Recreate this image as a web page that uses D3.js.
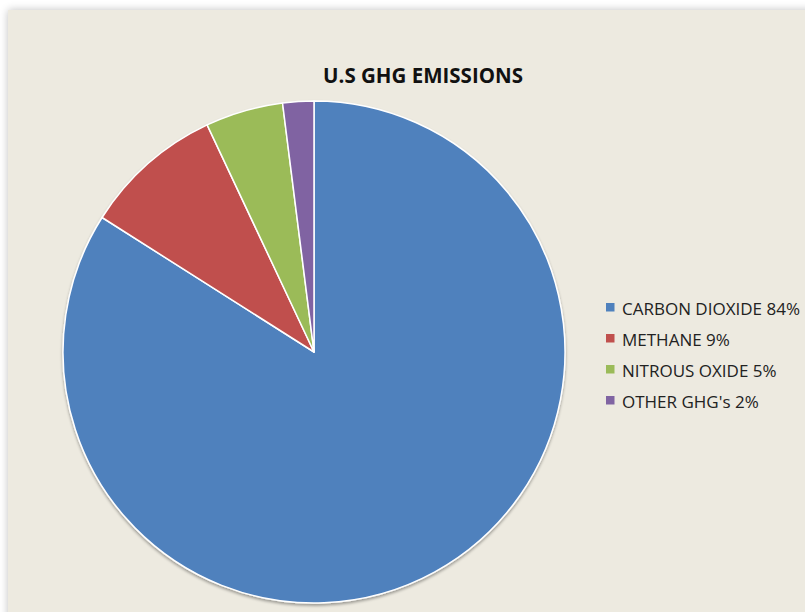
<!DOCTYPE html>
<html>
<head>
<meta charset="utf-8">
<script src="https://cdn.jsdelivr.net/npm/d3@7"></script>
<style>
  html, body { margin: 0; padding: 0; background: #fff; overflow: hidden; }
  svg { display: block; }
</style>
</head>
<body>
<div id="chart"></div>
<script>
// chart data
const gases = ["CARBON DIOXIDE", "METHANE", "NITROUS OXIDE", "OTHER GHG's"];
const shares = [84, 9, 5, 2];
const colors = ["#4F81BD", "#C0504D", "#9BBB59", "#8064A2"];

var w = 805,
  h = 612,
  cx = 314,
  cy = 352,
  r = 251;

var svg = d3.select("#chart")
  .append("svg")
  .attr("width", w)
  .attr("height", h);

var defs = svg.append("defs");

var panelShadow = defs.append("filter")
  .attr("id", "panelShadow")
  .attr("x", "-5%").attr("y", "-5%")
  .attr("width", "110%").attr("height", "110%");
panelShadow.append("feGaussianBlur")
  .attr("in", "SourceAlpha")
  .attr("stdDeviation", 4);
panelShadow.append("feComponentTransfer")
  .append("feFuncA").attr("type", "linear").attr("slope", 0.25);
var pm = panelShadow.append("feMerge");
pm.append("feMergeNode");
pm.append("feMergeNode").attr("in", "SourceGraphic");

var pieShadow = defs.append("filter")
  .attr("id", "pieShadow")
  .attr("x", "-10%").attr("y", "-10%")
  .attr("width", "120%").attr("height", "120%");
pieShadow.append("feGaussianBlur")
  .attr("in", "SourceAlpha")
  .attr("stdDeviation", 1.5);
pieShadow.append("feOffset").attr("dx", 0).attr("dy", 1.5);
pieShadow.append("feComponentTransfer")
  .append("feFuncA").attr("type", "linear").attr("slope", 0.35);
var qm = pieShadow.append("feMerge");
qm.append("feMergeNode");
qm.append("feMergeNode").attr("in", "SourceGraphic");

// background panel
svg.append("rect")
  .attr("x", 8)
  .attr("y", 10)
  .attr("width", w + 20)
  .attr("height", h + 20)
  .attr("fill", "#EDEAE0")
  .attr("filter", "url(#panelShadow)");

// title
svg.append("text")
  .attr("x", 423)
  .attr("y", 83)
  .attr("text-anchor", "middle")
  .attr("font-family", "'Open Sans', sans-serif")
  .attr("font-weight", "bold")
  .attr("font-size", 20.5)
  .attr("fill", "#111")
  .text("U.S GHG EMISSIONS");

// pie
var color = d3.scaleOrdinal().domain(gases).range(colors);

var pie = d3.pie()
  .sort(null)
  .value(function(d, i) { return shares[i]; });

var arc = d3.arc()
  .innerRadius(0)
  .outerRadius(r);

var slices = svg.append("g")
  .attr("transform", "translate(" + cx + "," + cy + ")")
  .attr("filter", "url(#pieShadow)");

slices.selectAll("path")
  .data(pie(gases))
  .enter()
  .append("path")
  .attr("d", arc)
  .attr("fill", function(d) { return color(d.data); })
  .attr("stroke", "#fff")
  .attr("stroke-width", 1.5)
  .attr("stroke-linejoin", "round");

// legend
var legendY = d3.scalePoint()
  .domain(gases)
  .range([307, 400]);

var legend = svg.append("g")
  .selectAll("g")
  .data(gases)
  .enter()
  .append("g")
  .attr("transform", function(d) { return "translate(606," + legendY(d) + ")"; });

legend.append("rect")
  .attr("x", 0)
  .attr("y", -4)
  .attr("width", 8.5)
  .attr("height", 8.5)
  .attr("fill", function(d) { return color(d); });

legend.append("text")
  .attr("x", 16)
  .attr("y", 7.5)
  .attr("font-family", "'Open Sans', sans-serif")
  .attr("font-size", 17)
  .attr("fill", "#222")
  .text(function(d, i) { return d + " " + shares[i] + "%"; });
</script>
</body>
</html>
